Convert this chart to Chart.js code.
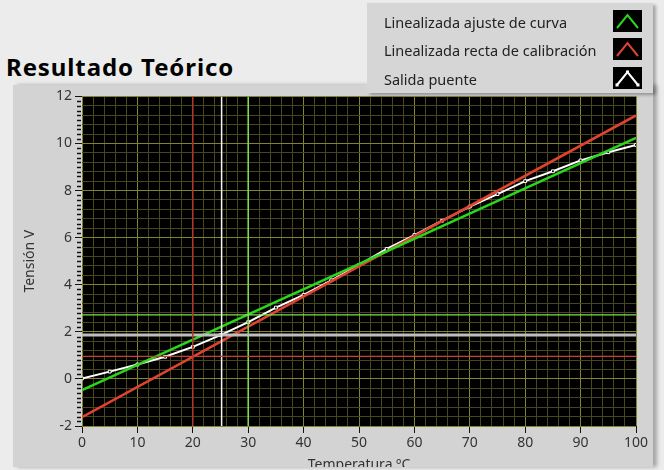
<!DOCTYPE html>
<html>
<head>
<meta charset="utf-8">
<script src="https://cdn.jsdelivr.net/npm/chart.js@4.4.0/dist/chart.umd.min.js"></script>
<style>
  body { margin: 0; width: 664px; height: 470px; background: #ececec; position: relative; overflow: hidden; font-family: "Noto Sans", sans-serif; }
  #title { position: absolute; left: 6px; top: 55px; font-size: 24px; line-height: 24px; letter-spacing: 0.9px; font-weight: bold; color: #000; }
  #panel { position: absolute; left: 13px; top: 85px; width: 640px; height: 382px; overflow: hidden; background: #d3d3d3; box-shadow: 4px 0 4px rgba(0,0,0,0.3); }
  #legend { position: absolute; left: 367px; top: 3px; width: 286px; height: 90px; background: #d6d6d6; box-shadow: 3px 2px 3px rgba(0,0,0,0.3); }
  .row { position: absolute; left: 17px; font-size: 14.5px; line-height: 18px; color: #222; }
  .icon { position: absolute; left: 246px; width: 29px; height: 22px; }
</style>
</head>
<body>
<div id="title">Resultado Teórico</div>
<div id="panel"><canvas id="grafico" width="640" height="420"></canvas></div>
<div id="legend"></div>
<script>
// datos
const temps = [0, 5, 10, 15, 20, 25, 30, 35, 40, 45, 50, 55, 60, 65, 70, 75, 80, 85, 90, 95, 100];
const salidaPuente = [0.02, 0.31, 0.61, 0.94, 1.36, 1.86, 2.41, 3.03, 3.57, 4.19, 4.84, 5.52, 6.11, 6.72, 7.32, 7.85, 8.40, 8.82, 9.28, 9.63, 9.94];
const rectaTemps = [0, 100];
const ajusteCurva = [-0.48, 10.24];
const rectaCalibracion = [-1.62, 11.19];

// cursores
const cursorTemp = [20, 25.2, 30];
const cursorTension = [0.96, 1.86, 2.72];

const xTickLabels = [0, 10, 20, 30, 40, 50, 60, 70, 80, 90, 100];
const yTickLabels = [-2, 0, 2, 4, 6, 8, 10, 12];

const seriesNames = ["Linealizada ajuste de curva", "Linealizada recta de calibración", "Salida puente"];
const seriesColors = ["#2bd61e", "#e0432f", "#ffffff"];

const fontFam = '"Noto Sans", sans-serif';
const majorGrid = '#85822f';
const minorGrid = '#47461c';

function pts(xs, ys) {
  return xs.map((x, i) => ({ x: x, y: ys[i] }));
}

// leyenda en html
const legend = document.getElementById('legend');
const rowTops = [10, 38, 67];
seriesNames.forEach((name, i) => {
  const row = document.createElement('div');
  row.className = 'row';
  row.style.top = rowTops[i] + 'px';
  row.textContent = name;
  legend.appendChild(row);
  const ic = document.createElementNS('http://www.w3.org/2000/svg', 'svg');
  ic.setAttribute('class', 'icon');
  ic.style.top = (rowTops[i] - 3) + 'px';
  let inner = '<rect x="0" y="0" width="29" height="22" fill="#000"/>' +
    '<polyline points="4,18 14.5,5 25,18" fill="none" stroke="' + seriesColors[i] + '" stroke-width="2"/>';
  if (i === 2) {
    inner += '<rect x="2.5" y="16.5" width="3" height="3" fill="#fff"/><rect x="13" y="3.5" width="3" height="3" fill="#fff"/><rect x="23.5" y="16.5" width="3" height="3" fill="#fff"/>';
  }
  ic.innerHTML = inner;
  legend.appendChild(ic);
});

const cursorColorsV = ['#b0362a', '#f4f4f4', '#7fe050'];
const cursorColorsH = ['#c84032', '#bdbdbd', '#7fe050'];
const cursorWidthV = [1.5, 1.5, 1.5];
const cursorWidthH = [1.2, 3, 1.2];

const datasets = [];
cursorTemp.forEach((t, i) => {
  datasets.push({
    data: [{ x: t, y: -2 }, { x: t, y: 12 }],
    borderColor: cursorColorsV[i], borderWidth: cursorWidthV[i], pointRadius: 0
  });
  datasets.push({
    data: [{ x: 0, y: cursorTension[i] }, { x: 100, y: cursorTension[i] }],
    borderColor: cursorColorsH[i], borderWidth: cursorWidthH[i], pointRadius: 0
  });
});
datasets.push({
  label: seriesNames[0], data: pts(rectaTemps, ajusteCurva),
  borderColor: seriesColors[0], borderWidth: 2.5, pointRadius: 0
});
datasets.push({
  label: seriesNames[1], data: pts(rectaTemps, rectaCalibracion),
  borderColor: seriesColors[1], borderWidth: 2.5, pointRadius: 0
});
datasets.push({
  label: seriesNames[2], data: pts(temps, salidaPuente),
  borderColor: seriesColors[2], borderWidth: 2, pointStyle: 'rect', pointRadius: 2,
  pointBackgroundColor: '#000', pointBorderColor: '#fff', pointBorderWidth: 1
});

const plotBg = {
  id: 'plotBg',
  beforeDraw(chart) {
    const a = chart.chartArea;
    chart.ctx.save();
    chart.ctx.fillStyle = '#000';
    chart.ctx.fillRect(a.left, a.top, a.right - a.left, a.bottom - a.top);
    chart.ctx.restore();
  },
  afterDraw(chart) {
    // marcas menores del eje y
    const ctx = chart.ctx, y = chart.scales.y, a = chart.chartArea;
    ctx.save();
    ctx.strokeStyle = '#111';
    ctx.lineWidth = 1.5;
    y.ticks.forEach(t => {
      const r = Math.round(t.value * 10);
      if (r % 20 === 0) return;
      const py = Math.round(y.getPixelForValue(t.value)) + 0.5;
      ctx.beginPath();
      ctx.moveTo(a.left - 5, py);
      ctx.lineTo(a.left - 1, py);
      ctx.stroke();
    });
    ctx.restore();
  }
};

new Chart(document.getElementById('grafico'), {
  type: 'line',
  data: { datasets: datasets },
  options: {
    responsive: false,
    animation: false,
    layout: { padding: { top: 10, right: 17, left: 0, bottom: 0 } },
    plugins: { legend: { display: false }, tooltip: { enabled: false } },
    elements: { line: { tension: 0 } },
    scales: {
      x: {
        type: 'linear', min: 0, max: 100,
        afterFit: s => { s.height = 79; },
        ticks: {
          stepSize: 2, autoSkip: false, maxRotation: 0, maxTicksLimit: 1000,
          color: '#333', font: { family: fontFam, size: 14 }, padding: 2,
          callback: v => xTickLabels.includes(v) ? String(v) : ''
        },
        grid: {
          color: c => (Math.round(c.tick.value) % 10 === 0 ? majorGrid : minorGrid),
          tickColor: c => (Math.round(c.tick.value) % 10 === 0 ? '#111' : 'rgba(0,0,0,0)'),
          tickLength: 7, lineWidth: 1
        },
        border: { display: false },
        title: { display: true, text: 'Temperatura ºC', color: '#333', font: { family: fontFam, size: 14 }, padding: { top: 0, bottom: 32 } }
      },
      y: {
        type: 'linear', min: -2, max: 12,
        afterFit: s => { s.width = 69; },
        ticks: {
          stepSize: 0.2, autoSkip: false, maxTicksLimit: 1000,
          color: '#333', font: { family: fontFam, size: 14 }, padding: 3,
          callback: v => {
            const r = Math.round(v * 10);
            return (r % 20 === 0 && yTickLabels.includes(r / 10)) ? String(r / 10) : '';
          }
        },
        grid: {
          color: c => {
            const r = Math.round(c.tick.value * 10);
            if (r % 20 === 0) return majorGrid;
            if (r % 4 === 0) return minorGrid;
            return 'rgba(0,0,0,0)';
          },
          tickColor: c => (Math.round(c.tick.value * 10) % 20 === 0 ? '#111' : 'rgba(0,0,0,0)'),
          tickLength: 7, lineWidth: 1
        },
        border: { display: false },
        title: { display: true, text: 'Tensión V', color: '#333', font: { family: fontFam, size: 14 }, padding: { top: 9, bottom: 0 } }
      }
    }
  },
  plugins: [plotBg]
});
</script>
</body>
</html>
